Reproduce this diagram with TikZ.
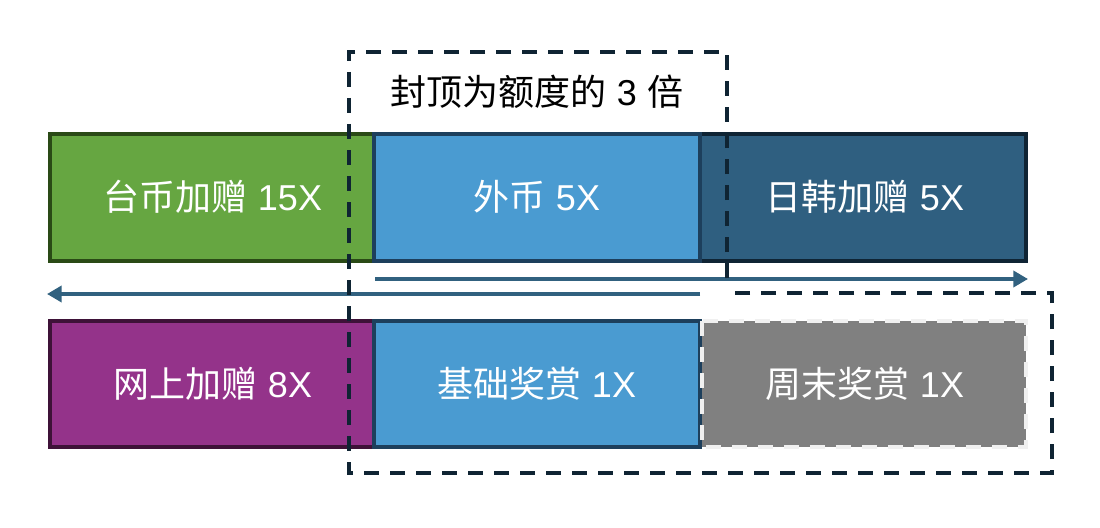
\documentclass[tikz,border=0pt]{standalone}
\usepackage{fontspec}
\setmainfont{Liberation Sans}
\newfontfamily\cjk{Noto Sans CJK SC}
\usetikzlibrary{arrows.meta}
\definecolor{cgreen}{HTML}{66A641}
\definecolor{cgreenb}{HTML}{2A4A16}
\definecolor{cblue}{HTML}{4A9BD1}
\definecolor{cblueb}{HTML}{1D3F5C}
\definecolor{cdark}{HTML}{2F5F80}
\definecolor{cdarkb}{HTML}{0F2434}
\definecolor{cpurple}{HTML}{94338A}
\definecolor{cpurpleb}{HTML}{3E1238}
\definecolor{cgray}{HTML}{808080}
\definecolor{cgrayb}{HTML}{F0F0F0}
\definecolor{carrow}{HTML}{31617F}
\definecolor{cdash}{HTML}{0F2433}
\tikzset{
  blk/.style={line width=3pt},
  lbl/.style={text=white, font=\fontsize{27}{32}\selectfont, inner sep=0pt},
  ttl/.style={text=black, font=\fontsize{27}{32}\selectfont, inner sep=0pt},
  arr/.style={draw=carrow, line width=2.8pt, -{Triangle[length=11pt,width=12pt]}},
  dsh/.style={draw=cdash, line width=2.3pt, dash pattern=on 11pt off 8.5pt},
}
\begin{document}
\begin{tikzpicture}[x=0.75pt,y=-0.75pt]
\useasboundingbox[fill=white] (0,0) rectangle (1100,528);
% top row
\draw[blk, fill=cgreen, draw=cgreenb] (50,134) rectangle (374,261);
\draw[blk, fill=cdark, draw=cdarkb] (700,134) rectangle (1026,261);
\draw[blk, fill=cblue, draw=cblueb] (374,134) rectangle (700,261);
\node[lbl] (t1) at (213,197) {{\cjk 台币加赠} 15X};
\node[lbl] (t2) at (537,197) {{\cjk 外币} 5X};
\node[lbl] (t3) at (865,197) {{\cjk 日韩加赠} 5X};
% bottom row
\draw[blk, fill=cpurple, draw=cpurpleb] (50,321) rectangle (374,447);
\draw[blk, fill=cblue, draw=cblueb] (374,321) rectangle (700,447);
\draw[line width=2.3pt, fill=cgray, draw=cgrayb, dash pattern=on 11pt off 8.5pt] (702,321) rectangle (1026,447);
\node[lbl] (b1) at (213,384) {{\cjk 网上加赠} 8X};
\node[lbl] (b2) at (537,384) {{\cjk 基础奖赏} 1X};
\node[lbl] (b3) at (865,384) {{\cjk 周末奖赏} 1X};
% arrows
\coordinate (ra) at (375,279);
\coordinate (rb) at (1028,279);
\coordinate (la) at (700,294);
\coordinate (lb) at (47,294);
\draw[arr] (ra) -- (rb);
\draw[arr] (la) -- (lb);
% dashed outline
\draw[dsh] (727,278) -- (727,52) -- (349,52) -- (349,473) -- (1052,473) -- (1052,293) -- (725,293);
\node[ttl] (title) at (537,92) {{\cjk 封顶为额度的} 3 {\cjk 倍}};
\end{tikzpicture}
\end{document}
